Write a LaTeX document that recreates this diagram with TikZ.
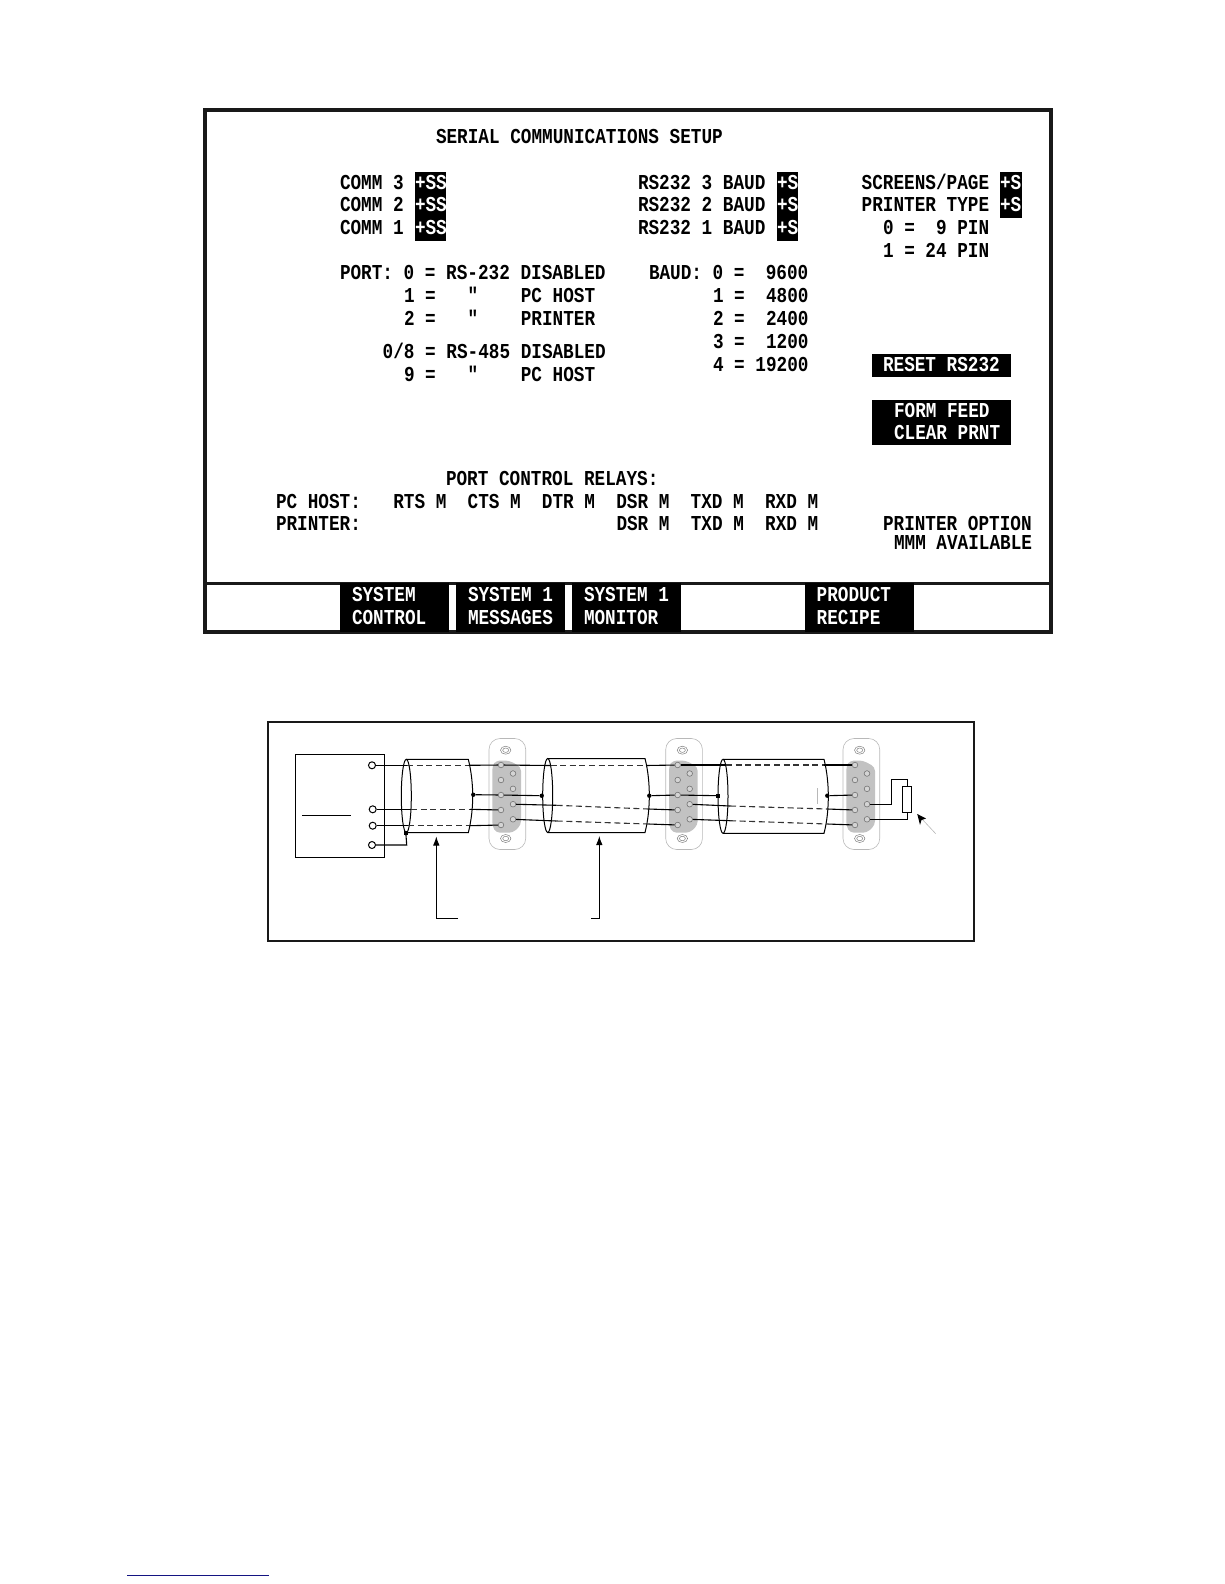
\documentclass[tikz,border=0pt]{standalone}
\usepackage{graphicx}
\usepackage{fontspec}
\newfontfamily\scrfont{Liberation Mono}[BoldFont={Liberation Mono Bold}]
\usetikzlibrary{arrows.meta}
\definecolor{conngray}{gray}{0.76}
\definecolor{edgegray}{gray}{0.72}
\definecolor{lnavy}{RGB}{20,20,130}
\tikzset{
  x=1pt,y=-1pt,
  txt/.style={anchor=base west,inner sep=0pt,outer sep=0pt,font=\fontsize{17.7}{20}\selectfont\scrfont\bfseries},
  invbox/.style={fill=black,draw=none},
  wire/.style={line width=1.1pt,black},
  dashwire/.style={line width=1.1pt,black!80,dash pattern=on 6pt off 3.6pt},
  pinn/.style={circle,draw=black!55,fill=conngray!70,line width=0.6pt,minimum size=5.6pt,inner sep=0pt},
  term/.style={circle,draw=black,fill=white,line width=1pt,minimum size=7pt,inner sep=0pt},
  jdot/.style={circle,fill=black,minimum size=4.4pt,inner sep=0pt},
  jsq/.style={rectangle,fill=black,minimum size=3.8pt,inner sep=0pt},
  cablel/.style={line width=1pt,black},
  arrowline/.style={line width=0.9pt,black,-{Latex[length=9pt,width=6.5pt]}},
}
\newcommand\scrl[5][black]{\node[txt,text=#1] (#2) at (#3,#4+6.6) {\scalebox{1}[1.2]{#5}};}
\newcommand\dsub[2]{%
  \draw[edgegray,line width=0.6pt,rounded corners=11pt] (#2-12,738.5) rectangle (#2+24.7,849.5);
  \fill[conngray,rounded corners=4pt] (#2-8.7,766) -- (#2-5,760.5) -- (#2+8,760.5) -- (#2+20,767) -- (#2+20,825) -- (#2+12,832.7) -- (#2-5,832.7) -- (#2-8.7,826) -- cycle;
  \draw[black!50,line width=0.5pt] (#2+4.7,750.2) ellipse (5.2 and 4) (#2+4.7,750.2) ellipse (3 and 2.2);
  \draw[black!50,line width=0.5pt] (#2+4.7,838.5) ellipse (5.2 and 4) (#2+4.7,838.5) ellipse (3 and 2.2);
  \node[pinn] (#1a1) at (#2,765) {};
  \node[pinn] (#1a2) at (#2,780) {};
  \node[pinn] (#1a3) at (#2,795) {};
  \node[pinn] (#1a4) at (#2,810) {};
  \node[pinn] (#1a5) at (#2,825) {};
  \node[pinn] (#1b1) at (#2+12,773.5) {};
  \node[pinn] (#1b2) at (#2+12,788.8) {};
  \node[pinn] (#1b3) at (#2+12,804.2) {};
  \node[pinn] (#1b4) at (#2+12,819.3) {};
}
\begin{document}
\begin{tikzpicture}
\useasboundingbox (0,0) rectangle (1224,1584);
% screen frame
\draw[line width=4pt,black!90] (205,110) rectangle (1051,632);
\draw[line width=3pt,black!90] (203,583.5) -- (1053,583.5);
% inverse boxes
\fill[invbox] (415,172) rectangle (446,240.7);
\fill[invbox] (777,172) rectangle (797.7,240.7);
\fill[invbox] (1000,172) rectangle (1021.7,217.7);
\fill[invbox] (872,354) rectangle (1010.7,376.7);
\fill[invbox] (872,400) rectangle (1010.7,445);
\fill[invbox] (340,583) rectangle (449.3,632);
\fill[invbox] (456,583) rectangle (565,632);
\fill[invbox] (572,583) rectangle (681,632);
\fill[invbox] (805,583) rectangle (914,632);
% texts
\scrl{title}{436}{137}{SERIAL COMMUNICATIONS SETUP}
\scrl{c3}{340}{182.7}{COMM 3}
\scrl{c2}{340}{205.3}{COMM 2}
\scrl{c1}{340}{228.3}{COMM 1}
\scrl[white]{ss3}{415}{182.7}{+SS}
\scrl[white]{ss2}{415}{205.3}{+SS}
\scrl[white]{ss1}{415}{228.3}{+SS}
\scrl{r3}{638}{182.7}{RS232 3 BAUD}
\scrl{r2}{638}{205.3}{RS232 2 BAUD}
\scrl{r1}{638}{228.3}{RS232 1 BAUD}
\scrl[white]{s3}{777}{182.7}{+S}
\scrl[white]{s2}{777}{205.3}{+S}
\scrl[white]{s1}{777}{228.3}{+S}
\scrl{sp}{861.7}{182.7}{SCREENS/PAGE}
\scrl{pt}{861.7}{205.3}{PRINTER TYPE}
\scrl[white]{s4}{1000}{182.7}{+S}
\scrl[white]{s5}{1000}{205.3}{+S}
\scrl{pin0}{883}{228.3}{0 =~~9 PIN}
\scrl{pin1}{883}{250.7}{1 = 24 PIN}
\scrl{p0}{340}{273.3}{PORT: 0 = RS-232 DISABLED}
\scrl{p1}{404}{296.3}{1 =~~~"~~~~PC HOST}
\scrl{p2}{404}{319}{2 =~~~"~~~~PRINTER}
\scrl{p3}{382.7}{352.3}{0/8 = RS-485 DISABLED}
\scrl{p4}{404}{375}{9 =~~~"~~~~PC HOST}
\scrl{b0}{649}{273.3}{BAUD: 0 =~~9600}
\scrl{b1}{713}{296.3}{1 =~~4800}
\scrl{b2}{713}{319}{2 =~~2400}
\scrl{b3}{713}{341.7}{3 =~~1200}
\scrl{b4}{713}{365}{4 = 19200}
\scrl[white]{rst}{883}{365}{RESET RS232}
\scrl[white]{ff}{894}{410.7}{FORM FEED}
\scrl[white]{cp}{894}{432.7}{CLEAR PRNT}
\scrl{pcr}{446}{478.7}{PORT CONTROL RELAYS:}
\scrl{pch}{276}{501.7}{PC HOST:}
\scrl{prn}{276}{524.3}{PRINTER:}
\scrl{rel1}{393.3}{501.7}{RTS M~~CTS M~~DTR M~~DSR M~~TXD M~~RXD M}
\scrl{rel2}{616.5}{524.3}{DSR M~~TXD M~~RXD M}
\scrl{po}{883}{524.3}{PRINTER OPTION}
\scrl{mmm}{894}{543.3}{MMM AVAILABLE}
\scrl[white]{k1a}{352}{595}{SYSTEM}
\scrl[white]{k1b}{352}{618}{CONTROL}
\scrl[white]{k2a}{468}{595}{SYSTEM 1}
\scrl[white]{k2b}{468}{618}{MESSAGES}
\scrl[white]{k3a}{584}{595}{SYSTEM 1}
\scrl[white]{k3b}{584}{618}{MONITOR}
\scrl[white]{k4a}{816.7}{595}{PRODUCT}
\scrl[white]{k4b}{816.7}{618}{RECIPE}
% wiring diagram frame
\draw[line width=2pt,black!90] (268,722) rectangle (974,940.7);
% device box
\node[draw,line width=0.9pt,minimum width=89pt,minimum height=103pt,inner sep=0pt] (dev) at (340.2,805.8) {};
\draw[line width=0.9pt] (302,815.3) -- (350.7,815.3);
\node[term] (t1) at (372,765.3) {};
\node[term] (t2) at (372.7,809.3) {};
\node[term] (t3) at (372.7,825.7) {};
\node[term] (t4) at (372,845) {};
% connectors
\dsub{ca}{501}
\dsub{cb}{677.7}
\dsub{cc}{855}
% cables
\draw[cablel] (406.3,796) ellipse (5 and 36.7);
\draw[cablel] (406.3,759.3) -- (468.3,759.3) .. controls (471.5,772) and (472.7,785) .. (472.7,796) .. controls (472.7,807) and (471.5,820) .. (468.3,832.7) -- (406.3,832.7);
\draw[cablel] (547.7,795.5) ellipse (5 and 37);
\draw[cablel] (547.7,758.5) -- (645,758.5) .. controls (648.2,771) and (649.3,784) .. (649.3,795.5) .. controls (649.3,807) and (648.2,820) .. (645,832.5) -- (547.7,832.5);
\draw[cablel] (723,796.3) ellipse (5 and 37);
\draw[cablel] (723,759.3) -- (824,759.3) .. controls (827.2,772) and (828.3,785) .. (828.3,796.3) .. controls (828.3,808) and (827.2,821) .. (824,833.3) -- (723,833.3);
% junctions
\node[jdot] (d1) at (473.3,794.7) {};
\node[jdot] (d2) at (541.7,795.7) {};
\node[jdot] (d3) at (649.3,795.7) {};
\node[jsq] (d4) at (718,795.7) {};
\node[jdot] (d5) at (827.3,795.7) {};
\node[jsq] (d6) at (405.8,832.7) {};
% cable 1 wires
\draw[wire] (t1) -- (407,765.3);
\draw[dashwire] (407,765.3) -- (468.5,765.3);
\draw[wire] (468.5,765.3) -- (caa1);
\draw[wire] (t2) -- (411,809.3);
\draw[dashwire] (411,809.3) -- (470,809.3);
\draw[wire] (470,809.3) -- (caa4);
\draw[wire] (t3) -- (408,825.7);
\draw[dashwire] (408,825.7) -- (469.5,825.7);
\draw[wire] (469.5,825.7) -- (caa5);
\draw[wire] (t4) -- (406.7,845) -- (d6);
\draw[wire] (d1) -- (caa3);
% cable 2 wires
\draw[wire] (caa1) -- (550.5,765.5);
\draw[dashwire] (550.5,765.5) -- (646,765.5);
\draw[wire] (646,765.5) -- (cba1);
\draw[wire] (caa3) -- (d2);
\draw[wire] (cab3) -- (556.7,805.3);
\draw[dashwire] (556.7,805.3) -- (648.3,809);
\draw[wire] (648.3,809) -- (cba4);
\draw[wire] (cab4) -- (556.7,821);
\draw[dashwire] (556.7,821) -- (648.3,824);
\draw[wire] (648.3,824) -- (cba5);
\draw[wire] (d3) -- (cba3);
% cable 3 wires
\draw[wire] (cba1) -- (726,765);
\draw[dashwire] (726,765) -- (823.5,765);
\draw[wire] (823.5,765) -- (cca1);
\draw[wire] (cba3) -- (d4);
\draw[wire] (cbb3) -- (730,806);
\draw[dashwire] (730,806) -- (827.3,809);
\draw[wire] (827.3,809) -- (cca4);
\draw[wire] (cbb4) -- (730,820.7);
\draw[dashwire] (730,820.7) -- (827.3,824);
\draw[wire] (827.3,824) -- (cca5);
\draw[wire] (d5) -- (cca3);
\draw[edgegray,line width=0.5pt] (817.3,788) -- (817.3,804);
% terminator
\node[draw,line width=0.9pt,minimum width=9pt,minimum height=26pt,inner sep=0pt] (res) at (907.2,799.3) {};
\draw[wire] (ccb3) -- (891.3,804.2) -- (891.3,779.7) -- (res.north |- 0,779.7) -- (res.north);
\draw[wire] (ccb4) -- (res.south |- 0,819.3) -- (res.south);
% arrows
\coordinate (tr) at (935.7,833.7);
\coordinate (trtip) at (917.3,814);
\draw[edgegray,line width=0.6pt] (tr) -- (trtip);
\fill[black] (917.3,814) -- (926,818.5) -- (921.5,820) -- (920,825) -- cycle;
\coordinate (aa) at (458,918.3);
\coordinate (ab) at (436.3,836.5);
\draw[arrowline] (aa) -- (436.3,918.3) -- (ab);
\coordinate (ba) at (591,918.3);
\coordinate (bb) at (599.3,836);
\draw[arrowline] (ba) -- (599.3,918.3) -- (bb);
% foot rule
\coordinate (fa) at (127,1575);
\coordinate (fb) at (269,1575);
\draw[lnavy,line width=1pt] (fa) -- (fb);
\end{tikzpicture}
\end{document}
